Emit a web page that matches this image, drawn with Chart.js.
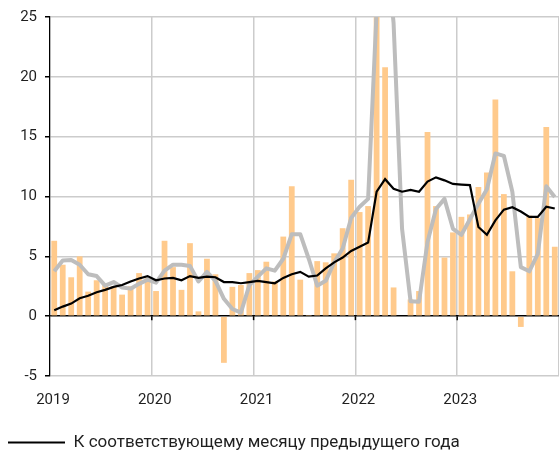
<!DOCTYPE html>
<html>
<head>
<meta charset="utf-8">
<script src="https://cdn.jsdelivr.net/npm/chart.js@4/dist/chart.umd.min.js"></script>
<style>
  html, body { margin: 0; padding: 0; background: #fff; }
  #wrap { width: 559px; height: 455px; position: relative; }
</style>
</head>
<body>
<div id="wrap"><canvas id="chart"></canvas></div>
<script>
const years = ["2019", "2020", "2021", "2022", "2023"];
const yTicks = [-5, 0, 5, 10, 15, 20, 25];

// month-on-month (bars), Jan 2019 .. Dec 2023
const monthly = [
  6.3, 4.3, 3.25, 5.0, 2.05, 3.0, 2.6, 2.5, 1.8, 2.5, 3.6, 3.2,
  2.1, 6.3, 4.1, 2.2, 6.1, 0.4, 4.8, 3.5, -3.9, 2.45, 2.6, 3.6,
  3.85, 4.55, 2.9, 6.65, 10.85, 3.05, 0.1, 4.6, 4.5, 5.25, 7.35, 11.4,
  8.7, 9.2, 26, 20.8, 2.4, 0, 1.4, 2.1, 15.4, 9.2, 4.9, 7.0,
  8.3, 8.5, 10.8, 12.0, 18.1, 10.2, 3.75, -0.9, 8.4, 8.2, 15.8, 5.8
];

// year-on-year (black line)
const yoy = [
  0.5, 0.8, 1.05, 1.5, 1.7, 2.0, 2.2, 2.45, 2.6, 2.9, 3.15, 3.35,
  3.0, 3.15, 3.2, 3.0, 3.35, 3.2, 3.3, 3.25, 2.85, 2.85, 2.75, 2.85,
  2.95, 2.85, 2.75, 3.2, 3.5, 3.7, 3.3, 3.4, 4.0, 4.5, 4.9, 5.45,
  5.8, 6.15, 10.4, 11.45, 10.65, 10.4, 10.55, 10.4, 11.25, 11.6, 11.35, 11.05,
  11.0, 10.95, 7.45, 6.8, 8.0, 8.9, 9.1, 8.75, 8.3, 8.3, 9.15, 9.0
];

// gray line
const smoothed = [
  3.75, 4.65, 4.7, 4.3, 3.5, 3.35, 2.55, 2.85, 2.4, 2.3, 2.7, 3.05,
  2.8, 3.8, 4.3, 4.3, 4.2, 2.9, 3.7, 2.95, 1.45, 0.6, 0.3, 2.6,
  3.3, 4.0, 3.8, 4.8, 6.85, 6.85, 4.8, 2.55, 2.95, 4.5, 5.65, 8.2,
  9.15, 9.8, 25.5, 32, 24.5, 7.3, 1.25, 1.2, 6.2, 8.95, 9.8, 7.3,
  6.8, 8.1, 9.4, 10.6, 13.6, 13.4, 10.4, 4.1, 3.75, 5.2, 10.85, 9.95
];

const toPoints = (arr) => arr.map((v, i) => ({ x: i + 0.5, y: v }));

// small tick marks on the zero line at year boundaries
const zeroTicks = {
  id: "zeroTicks",
  afterDatasetsDraw(chart) {
    const { ctx, scales } = chart;
    const y0 = scales.y.getPixelForValue(0);
    ctx.save();
    ctx.strokeStyle = "#000";
    ctx.lineWidth = 1.5;
    for (let v = 12; v < 60; v += 12) {
      const x = scales.x.getPixelForValue(v);
      ctx.beginPath();
      ctx.moveTo(x, y0);
      ctx.lineTo(x, y0 + 4);
      ctx.stroke();
    }
    ctx.restore();
  },
};

Chart.defaults.font.family = "Roboto, 'Liberation Sans', sans-serif";
Chart.defaults.color = "#1f1f1f";

new Chart(document.getElementById("chart"), {
  data: {
    datasets: [
      {
        type: "line",
        label: "К соответствующему месяцу предыдущего года",
        data: toPoints(yoy),
        borderColor: "#000",
        borderWidth: 2.2,
        pointRadius: 0,
        tension: 0,
        order: 0,
      },
      {
        type: "line",
        label: "Сглаженный ряд",
        data: toPoints(smoothed),
        borderColor: "#bdbdbd",
        borderWidth: 4,
        borderJoinStyle: "round",
        pointRadius: 0,
        tension: 0,
        order: 1,
      },
      {
        type: "bar",
        label: "К предыдущему месяцу",
        data: toPoints(monthly),
        backgroundColor: "#ffca8c",
        categoryPercentage: 0.8,
        barPercentage: 0.85,
        order: 2,
      },
    ],
  },
  options: {
    responsive: true,
    maintainAspectRatio: false,
    animation: false,
    layout: { padding: { top: 8, right: 0, bottom: -6, left: 0 } },
    plugins: {
      tooltip: { enabled: false },
      legend: {
        position: "bottom",
        align: "start",
        labels: {
          filter: (item) => item.datasetIndex === 0,
          usePointStyle: true,
          pointStyle: "line",
          pointStyleWidth: 57,
          padding: 8,
          color: "#1f1f1f",
          font: { size: 17 },
        },
      },
    },
    scales: {
      x: {
        type: "linear",
        min: 0,
        max: 60,
        offset: false,
        afterFit: (scale) => {
          scale.height = 50;
          scale.paddingRight = 0;
          scale.paddingLeft = 0;
        },
        border: { display: false },
        grid: { color: "#cccccc", lineWidth: 1.5, drawTicks: false, offset: false },
        ticks: {
          stepSize: 12,
          padding: 15,
          labelOffset: 3,
          maxRotation: 0,
          autoSkip: false,
          font: { size: 15 },
          callback: (v) => years[v / 12] || "",
        },
      },
      y: {
        min: -5,
        max: 25,
        afterFit: (scale) => { scale.width = 50; },
        afterBuildTicks: (scale) => {
          scale.ticks = yTicks.map((v) => ({ value: v }));
        },
        border: { color: "#000", width: 1.2 },
        grid: {
          color: (c) => (c.tick && c.tick.value === 0 ? "#000" : "#cccccc"),
          lineWidth: 1.5,
          tickColor: "#000",
          tickLength: 5,
        },
        ticks: { padding: 8, font: { size: 15 } },
      },
    },
  },
  plugins: [zeroTicks],
});
</script>
</body>
</html>
